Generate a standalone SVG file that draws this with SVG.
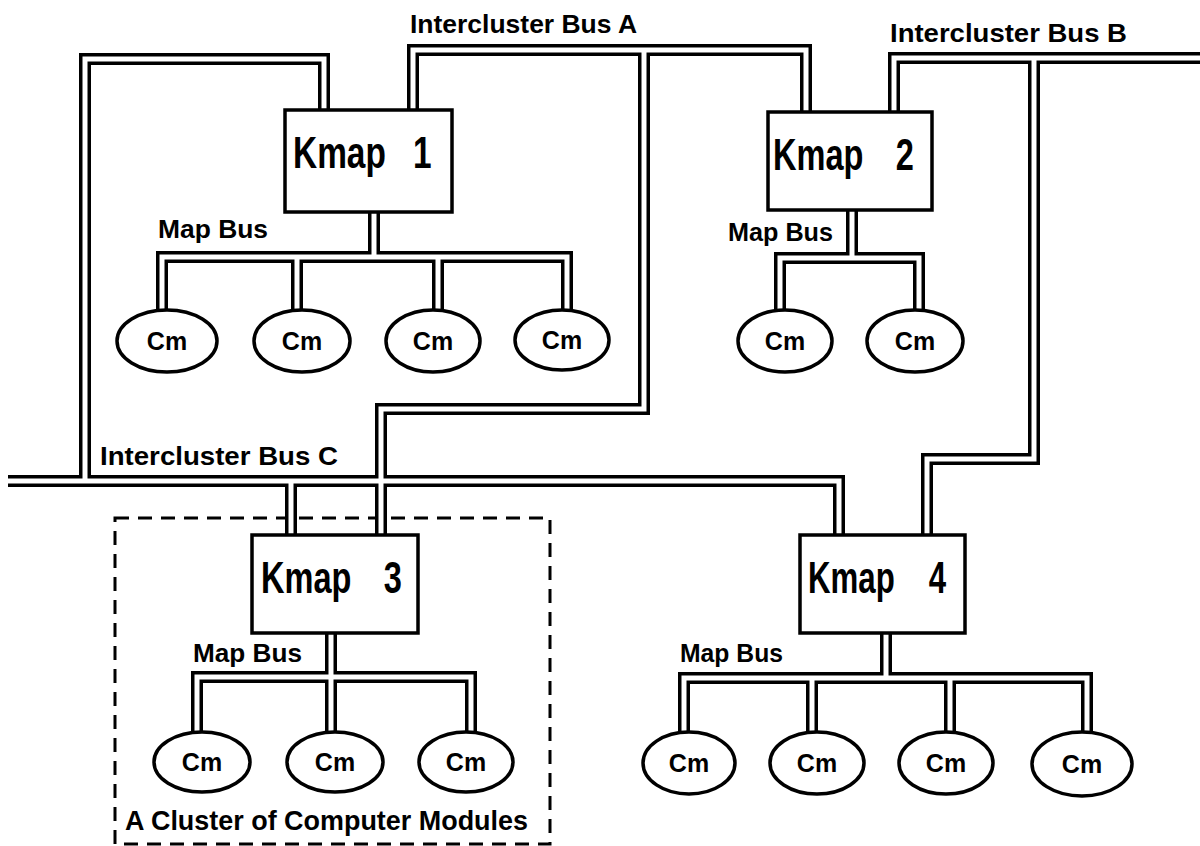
<svg xmlns="http://www.w3.org/2000/svg" xmlns:xlink="http://www.w3.org/1999/xlink" width="1200" height="846" viewBox="0 0 1200 846">
<style>
.outer{fill:none;stroke:#000;stroke-width:12;stroke-linejoin:miter;stroke-linecap:butt}
.inner{fill:none;stroke:#fff;stroke-width:5;stroke-linejoin:miter;stroke-linecap:butt}
.box{fill:#fff;stroke:#000;stroke-width:3.5}
.cm{fill:#fff;stroke:#000;stroke-width:3.5}
.cluster{fill:none;stroke:#000;stroke-width:3;stroke-dasharray:14 9}
text{font-family:"Liberation Sans",Arial,sans-serif;font-weight:bold;fill:#000}
.kt{font-size:44px}
.ct{font-size:25px;text-anchor:middle}
.lb{font-size:26px}
</style>
<defs>
<path id="busA" d="M413,110 V50 H806 V112 M644,50 V409 H381 V535"/>
<path id="busB" d="M894,112 V58 H1200 M1034,58 V459 H927 V535"/>
<path id="busC" d="M8,481 H839 V535 M324,110 V59 H85 V481 M291,481 V535"/>
<path id="map1" d="M374,212 V257 M162,312 V257 H567 V312 M297,257 V312 M438,257 V312"/>
<path id="map2" d="M852,210 V258 M780,312 V258 H919 V312"/>
<path id="map3" d="M331,633 V735 M197,735 V677 H471 V735"/>
<path id="map4" d="M886,633 V678 M684,735 V678 H1087 V735 M812,678 V735 M950,678 V735"/>
</defs>

<rect id="cluster" class="cluster" x="115" y="518" width="435" height="326"/>

<g id="connectors">
<use xlink:href="#busA" class="outer"/>
<use xlink:href="#busB" class="outer"/>
<use xlink:href="#busC" class="outer"/>
<use xlink:href="#map1" class="outer"/>
<use xlink:href="#map2" class="outer"/>
<use xlink:href="#map3" class="outer"/>
<use xlink:href="#map4" class="outer"/>
<use xlink:href="#busA" class="inner"/>
<use xlink:href="#busB" class="inner"/>
<use xlink:href="#busC" class="inner"/>
<use xlink:href="#map1" class="inner"/>
<use xlink:href="#map2" class="inner"/>
<use xlink:href="#map3" class="inner"/>
<use xlink:href="#map4" class="inner"/>
<text class="lb" x="410" y="33" textLength="227" lengthAdjust="spacingAndGlyphs">Intercluster Bus A</text>
<text class="lb" x="890" y="42" textLength="237" lengthAdjust="spacingAndGlyphs">Intercluster Bus B</text>
<text class="lb" x="100" y="465" textLength="238" lengthAdjust="spacingAndGlyphs">Intercluster Bus C</text>
<text class="lb" x="158" y="238" textLength="110" lengthAdjust="spacingAndGlyphs">Map Bus</text>
<text class="lb" x="728" y="241" textLength="105" lengthAdjust="spacingAndGlyphs">Map Bus</text>
<text class="lb" x="193" y="662" textLength="109" lengthAdjust="spacingAndGlyphs">Map Bus</text>
<text class="lb" x="680" y="662" textLength="103" lengthAdjust="spacingAndGlyphs">Map Bus</text>
</g>

<g id="kmap1">
<rect class="box" x="285" y="110" width="167" height="102"/>
<text class="kt" transform="translate(293 168) scale(0.76 1)">Kmap<tspan x="158">1</tspan></text>
</g>
<g id="kmap2">
<rect class="box" x="768" y="112" width="164" height="98"/>
<text class="kt" transform="translate(773 170) scale(0.74 1)">Kmap<tspan x="166">2</tspan></text>
</g>
<g id="kmap3">
<rect class="box" x="252" y="535" width="166" height="98"/>
<text class="kt" transform="translate(261 593) scale(0.74 1)">Kmap<tspan x="166">3</tspan></text>
</g>
<g id="kmap4">
<rect class="box" x="800" y="535" width="165" height="98"/>
<text class="kt" transform="translate(808 593) scale(0.71 1)">Kmap<tspan x="170">4</tspan></text>
</g>

<g id="cm1a"><ellipse class="cm" cx="167" cy="341" rx="50" ry="31"/><text class="ct" x="167" y="350">Cm</text></g>
<g id="cm1b"><ellipse class="cm" cx="302" cy="341" rx="48" ry="31"/><text class="ct" x="302" y="350">Cm</text></g>
<g id="cm1c"><ellipse class="cm" cx="433" cy="341" rx="47" ry="31"/><text class="ct" x="433" y="350">Cm</text></g>
<g id="cm1d"><ellipse class="cm" cx="562" cy="340" rx="47" ry="30"/><text class="ct" x="562" y="349">Cm</text></g>

<g id="cm2a"><ellipse class="cm" cx="785" cy="341" rx="47" ry="31"/><text class="ct" x="785" y="350">Cm</text></g>
<g id="cm2b"><ellipse class="cm" cx="915" cy="341" rx="48" ry="31"/><text class="ct" x="915" y="350">Cm</text></g>

<g id="cm3a"><ellipse class="cm" cx="202" cy="762" rx="48" ry="30"/><text class="ct" x="202" y="771">Cm</text></g>
<g id="cm3b"><ellipse class="cm" cx="335" cy="762" rx="48" ry="30"/><text class="ct" x="335" y="771">Cm</text></g>
<g id="cm3c"><ellipse class="cm" cx="466" cy="762" rx="47" ry="30"/><text class="ct" x="466" y="771">Cm</text></g>

<g id="cm4a"><ellipse class="cm" cx="689" cy="763" rx="46" ry="31"/><text class="ct" x="689" y="772">Cm</text></g>
<g id="cm4b"><ellipse class="cm" cx="817" cy="763" rx="47" ry="31"/><text class="ct" x="817" y="772">Cm</text></g>
<g id="cm4c"><ellipse class="cm" cx="946" cy="763" rx="47" ry="31"/><text class="ct" x="946" y="772">Cm</text></g>
<g id="cm4d"><ellipse class="cm" cx="1082" cy="764" rx="50" ry="32"/><text class="ct" x="1082" y="773">Cm</text></g>

<text id="cluster-label" class="lb" x="125" y="830" style="font-size:27px" textLength="403" lengthAdjust="spacingAndGlyphs">A Cluster of Computer Modules</text>
</svg>
